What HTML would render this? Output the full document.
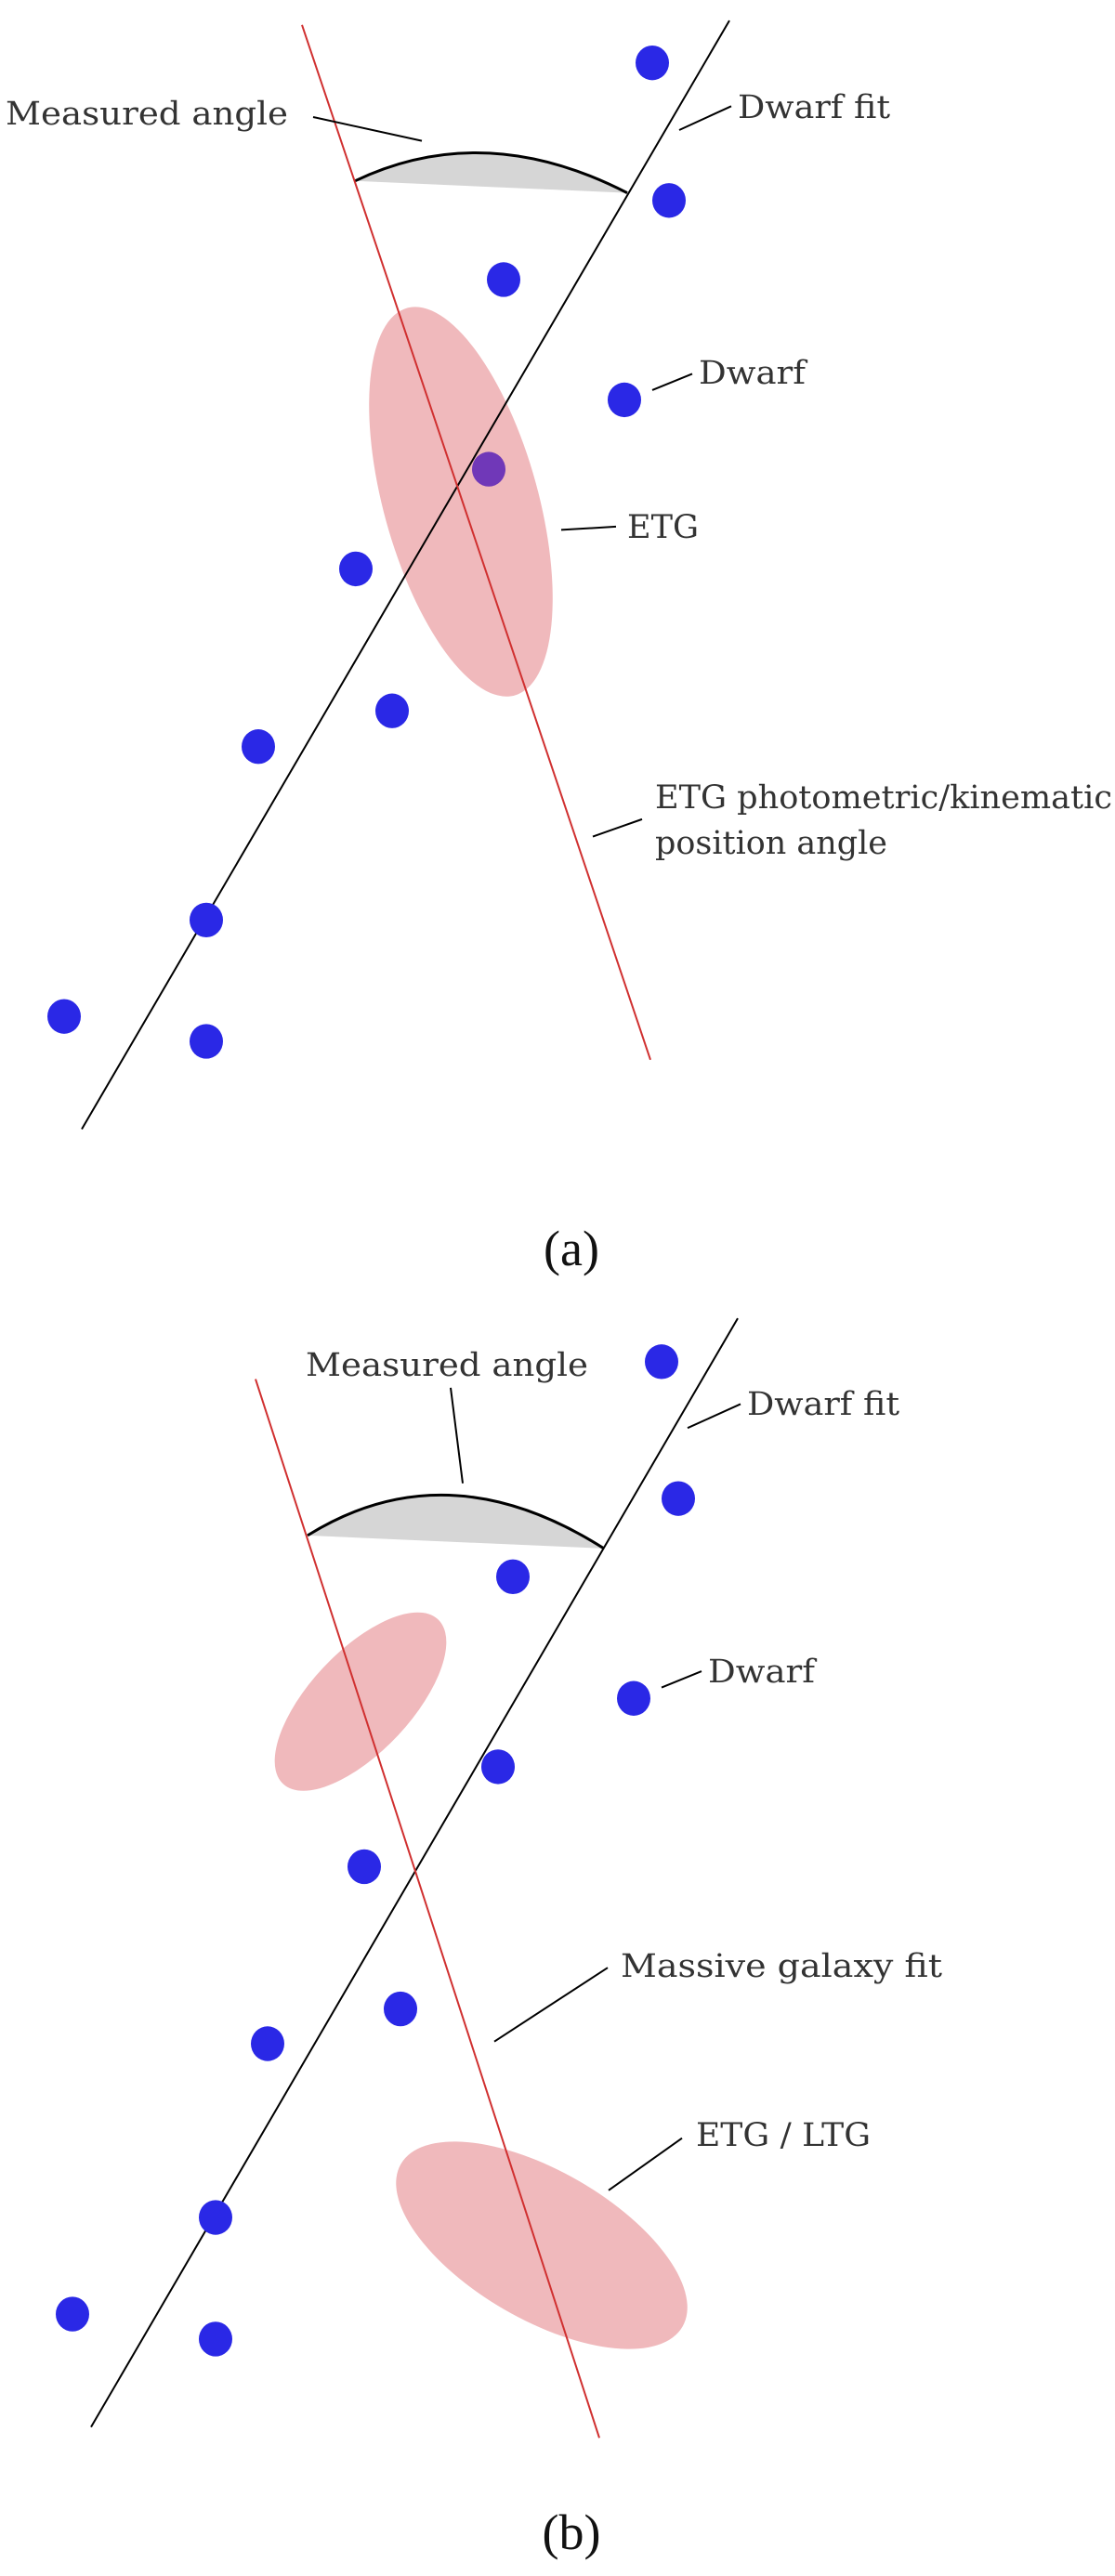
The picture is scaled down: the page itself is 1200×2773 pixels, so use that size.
<!DOCTYPE html>
<html><head><meta charset="utf-8"><style>
html,body{margin:0;padding:0;background:#fff}
svg{display:block}
.l{font-family:"DejaVu Serif","Liberation Serif",serif;font-size:35px;fill:#333}
.c{font-family:"Liberation Serif",serif;font-size:54px;fill:#111}
line,path{vector-effect:non-scaling-stroke}
</style></head><body>
<svg width="1200" height="2773" viewBox="0 0 1200 2773" xmlns="http://www.w3.org/2000/svg">
<rect width="1200" height="2773" fill="#fff"/>
<!-- Panel a -->
<g transform="matrix(1,0,0,1.1665,0,0)">
<ellipse cx="496" cy="463" rx="82" ry="188" transform="rotate(-19 496 463)" fill="#f0b9bc"/>
<path d="M382 167 Q521 110 675 178 Z" fill="#d6d6d6"/>
<path d="M382 167 Q521 110 675 178" fill="none" stroke="#000" stroke-width="3"/>
<line x1="785" y1="19" x2="88" y2="1042" stroke="#000" stroke-width="2"/>
<line x1="325" y1="23" x2="700" y2="978" stroke="#d03030" stroke-width="2"/>
<g fill="#2a28e6">
<ellipse cx="702" cy="58" rx="18" ry="16"/><ellipse cx="720" cy="185" rx="18" ry="16"/>
<ellipse cx="542" cy="258" rx="18" ry="16"/><ellipse cx="672" cy="369" rx="18" ry="16"/>
<ellipse cx="383" cy="525" rx="18" ry="16"/><ellipse cx="422" cy="656" rx="18" ry="16"/>
<ellipse cx="278" cy="689" rx="18" ry="16"/><ellipse cx="222" cy="849" rx="18" ry="16"/>
<ellipse cx="69" cy="938" rx="18" ry="16"/><ellipse cx="222" cy="961" rx="18" ry="16"/>
</g>
<ellipse cx="526" cy="433" rx="18" ry="16" fill="#7038b8"/>
<g stroke="#000" stroke-width="2">
<line x1="337" y1="108" x2="454" y2="130"/><line x1="731" y1="120" x2="787" y2="98"/>
<line x1="702" y1="360" x2="745" y2="345"/><line x1="604" y1="489" x2="663" y2="486"/>
<line x1="638" y1="772" x2="691" y2="756"/>
</g>
</g>
<text class="l" x="6" y="134" textLength="304" lengthAdjust="spacingAndGlyphs">Measured angle</text>
<text class="l" x="794" y="127" textLength="164" lengthAdjust="spacingAndGlyphs">Dwarf fit</text>
<text class="l" x="752" y="413" textLength="115" lengthAdjust="spacingAndGlyphs">Dwarf</text>
<text class="l" x="675" y="579" textLength="77" lengthAdjust="spacingAndGlyphs">ETG</text>
<text class="l" x="705" y="870" textLength="492" lengthAdjust="spacingAndGlyphs">ETG photometric/kinematic</text>
<text class="l" x="705" y="919" textLength="250" lengthAdjust="spacingAndGlyphs">position angle</text>
<text class="c" x="615" y="1362" text-anchor="middle">(a)</text>
<!-- Panel b -->
<ellipse cx="583" cy="2417" rx="175" ry="80" transform="rotate(30 583 2417)" fill="#f0b9bc"/>
<g transform="translate(0,1370) scale(1,1.169) translate(0,-1370)">
<ellipse cx="388" cy="1765" rx="113" ry="50" transform="rotate(-40 388 1765)" fill="#f0b9bc"/>
<path d="M331 1612 Q481 1532 650 1624 Z" fill="#d6d6d6"/>
<path d="M331 1612 Q481 1532 650 1624" fill="none" stroke="#000" stroke-width="3"/>
<line x1="794" y1="1412" x2="98" y2="2433" stroke="#000" stroke-width="2"/>
<line x1="275" y1="1468" x2="645" y2="2443" stroke="#d03030" stroke-width="2"/>
<g fill="#2a28e6">
<ellipse cx="712" cy="1452" rx="18" ry="16"/><ellipse cx="730" cy="1578" rx="18" ry="16"/>
<ellipse cx="552" cy="1650" rx="18" ry="16"/><ellipse cx="682" cy="1762" rx="18" ry="16"/>
<ellipse cx="536" cy="1825" rx="18" ry="16"/><ellipse cx="392" cy="1917" rx="18" ry="16"/>
<ellipse cx="431" cy="2048" rx="18" ry="16"/><ellipse cx="288" cy="2080" rx="18" ry="16"/>
<ellipse cx="232" cy="2240" rx="18" ry="16"/><ellipse cx="78" cy="2329" rx="18" ry="16"/>
<ellipse cx="232" cy="2352" rx="18" ry="16"/>
</g>
<g stroke="#000" stroke-width="2">
<line x1="485" y1="1476" x2="498" y2="1564"/><line x1="740" y1="1513" x2="797" y2="1491"/>
<line x1="712" y1="1752" x2="755" y2="1737"/><line x1="532" y1="2078" x2="654" y2="2010"/>
<line x1="655" y1="2215" x2="734" y2="2167"/>
</g>
</g>
<text class="l" x="329" y="1481" textLength="304" lengthAdjust="spacingAndGlyphs">Measured angle</text>
<text class="l" x="804" y="1523" textLength="164" lengthAdjust="spacingAndGlyphs">Dwarf fit</text>
<text class="l" x="762" y="1811" textLength="115" lengthAdjust="spacingAndGlyphs">Dwarf</text>
<text class="l" x="668" y="2128" textLength="346" lengthAdjust="spacingAndGlyphs">Massive galaxy fit</text>
<text class="l" x="749" y="2310" textLength="188" lengthAdjust="spacingAndGlyphs">ETG / LTG</text>
<text class="c" x="615" y="2744" text-anchor="middle">(b)</text>
</svg>
</body></html>
